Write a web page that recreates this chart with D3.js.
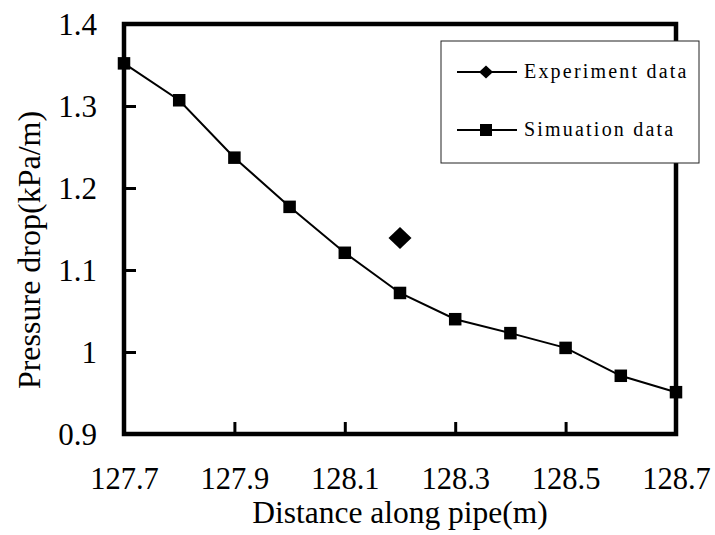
<!DOCTYPE html>
<html>
<head>
<meta charset="utf-8">
<script src="https://cdn.jsdelivr.net/npm/d3@7"></script>
<style>
  html, body { margin: 0; padding: 0; background: #fff; }
  svg { display: block; }
  text { font-family: "Liberation Serif", "Times New Roman", serif; fill: #000; }
</style>
</head>
<body>
<svg id="chart" width="715" height="535"></svg>
<script>
// ---- Data ----
const simX = [127.7, 127.8, 127.9, 128.0, 128.1, 128.2, 128.3, 128.4, 128.5, 128.6, 128.7];
const simY = [1.352, 1.307, 1.237, 1.177, 1.121, 1.072, 1.040, 1.023, 1.005, 0.971, 0.951];
const expX = [128.2];
const expY = [1.139];
const xTicks = [127.7, 127.9, 128.1, 128.3, 128.5, 128.7];
const yTicks = [0.9, 1.0, 1.1, 1.2, 1.3, 1.4];
const seriesNames = ["Experiment data", "Simuation data"];
const xTitle = "Distance along pipe(m)";
const yTitle = "Pressure drop(kPa/m)";

// ---- Layout ----
const svg = d3.select("#chart");
const pL = 124, pR = 676, pT = 24, pB = 434;
const x = d3.scaleLinear().domain([127.7, 128.7]).range([pL, pR]);
const y = d3.scaleLinear().domain([0.9, 1.4]).range([pB, pT]);

// Axes (ticks inward)
const xAxis = d3.axisBottom(x).tickValues(xTicks).tickSize(-12).tickPadding(0)
  .tickFormat(d => d3.format(".1f")(d));
const yAxis = d3.axisLeft(y).tickValues(yTicks).tickSize(-12).tickPadding(0)
  .tickFormat(d => (Math.abs(d - 1) < 1e-9 ? "1" : d3.format(".1f")(d)));

const gx = svg.append("g").attr("transform", `translate(0,${pB})`).call(xAxis);
gx.select(".domain").remove();
gx.selectAll(".tick line").attr("stroke", "#000").attr("stroke-width", 3);
gx.selectAll(".tick text").attr("y", 55).attr("dy", 0)
  .attr("font-size", 30.5).attr("font-family", "Liberation Serif, serif");

const gy = svg.append("g").attr("transform", `translate(${pL},0)`).call(yAxis);
gy.select(".domain").remove();
gy.selectAll(".tick line").attr("stroke", "#000").attr("stroke-width", 3);
gy.selectAll(".tick text").attr("x", -27).attr("dy", "0.34em")
  .attr("text-anchor", "end")
  .attr("font-size", 31).attr("font-family", "Liberation Serif, serif");

// Frame
svg.append("rect").attr("x", pL).attr("y", pT)
  .attr("width", pR - pL).attr("height", pB - pT)
  .attr("fill", "none").attr("stroke", "#000").attr("stroke-width", 4.5);

// Simulation line
const line = d3.line().x(d => x(d[0])).y(d => y(d[1]));
const simPts = simX.map((v, i) => [v, simY[i]]);
svg.append("path").datum(simPts).attr("d", line)
  .attr("fill", "none").attr("stroke", "#000").attr("stroke-width", 2);

const sq = 12.5;
svg.selectAll(".sq").data(simPts).enter().append("rect")
  .attr("x", d => x(d[0]) - sq / 2).attr("y", d => y(d[1]) - sq / 2)
  .attr("width", sq).attr("height", sq).attr("fill", "#000");

// Experiment point
const expPts = expX.map((v, i) => [v, expY[i]]);
const diamond = (cx, cy, w, h) => `M${cx},${cy - h / 2}L${cx + w / 2},${cy}L${cx},${cy + h / 2}L${cx - w / 2},${cy}Z`;
svg.selectAll(".dm").data(expPts).enter().append("path")
  .attr("d", d => diamond(x(d[0]), y(d[1]), 23, 22)).attr("fill", "#000");

// Legend
const lg = svg.append("g");
lg.append("rect").attr("x", 441).attr("y", 41).attr("width", 258).attr("height", 122)
  .attr("fill", "#fff").attr("stroke", "#222").attr("stroke-width", 1);
const rows = [72, 130];
seriesNames.forEach((name, i) => {
  const ry = rows[i];
  lg.append("line").attr("x1", 457).attr("x2", 517).attr("y1", ry).attr("y2", ry)
    .attr("stroke", "#000").attr("stroke-width", 2);
  if (i === 0) {
    lg.append("path").attr("d", diamond(486, ry, 14, 13)).attr("fill", "#000");
  } else {
    lg.append("rect").attr("x", 486 - 6).attr("y", ry - 6).attr("width", 12).attr("height", 12).attr("fill", "#000");
  }
  lg.append("text").attr("x", 524).attr("y", ry + 5.5).attr("dy", 0)
    .attr("font-size", 20).attr("letter-spacing", 2.2).text(name);
});

// Titles
svg.append("text").attr("x", 400).attr("y", 523).attr("text-anchor", "middle")
  .attr("font-size", 31.5).text(xTitle);
svg.append("text").attr("transform", "translate(40,250) rotate(-90)")
  .attr("text-anchor", "middle").attr("font-size", 32).text(yTitle);
</script>
</body>
</html>
